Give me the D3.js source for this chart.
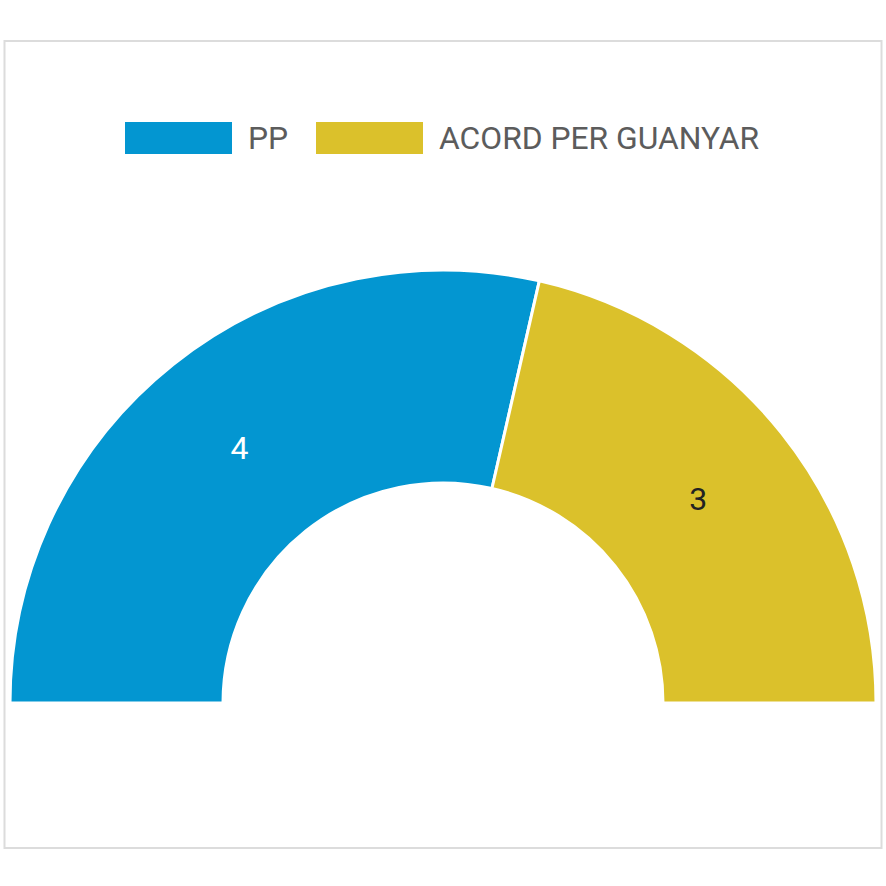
<!DOCTYPE html>
<html><head><meta charset="utf-8">
<script src="https://cdn.jsdelivr.net/npm/d3@7"></script>
<style>html,body{margin:0;padding:0;background:#fff;}</style>
</head><body>
<svg id="chart" width="886" height="886"></svg>
<script>
const categories = ["PP", "ACORD PER GUANYAR"];
const seats = [4, 3];
const colors = ["#0396d1", "#dbc12b"];
const labelColors = ["#ffffff", "#222222"];

const svg = d3.select("#chart");
svg.append("rect").attr("x", 4.5).attr("y", 41).attr("width", 877).attr("height", 807)
  .attr("fill", "#fff").attr("stroke", "#dcdcdc").attr("stroke-width", 2);

const cx = 443, cy = 703, rOuter = 433, rInner = 220;
const data = categories.map((c, i) => ({ name: c, value: seats[i], color: colors[i], lc: labelColors[i] }));
const pie = d3.pie().value(d => d.value).sort(null).startAngle(-Math.PI / 2).endAngle(Math.PI / 2);
const arc = d3.arc().innerRadius(rInner).outerRadius(rOuter);
const g = svg.append("g").attr("transform", `translate(${cx},${cy})`);
const arcs = pie(data);
g.selectAll("path").data(arcs).join("path")
  .attr("d", arc).attr("fill", d => d.data.color)
  .attr("stroke", "#fff").attr("stroke-width", 3).attr("stroke-linejoin", "miter");
g.selectAll("text").data(arcs).join("text")
  .attr("transform", d => `translate(${arc.centroid(d)})`)
  .attr("text-anchor", "middle").attr("dominant-baseline", "central")
  .attr("font-family", "Roboto").attr("font-size", 32)
  .attr("fill", d => d.data.lc).text(d => d.data.value);

// legend
const legendX = [125, 316];
const lg = svg.append("g");
data.forEach((d, i) => {
  lg.append("rect").attr("x", legendX[i]).attr("y", 122).attr("width", 107).attr("height", 32).attr("fill", d.color);
  lg.append("text").attr("x", legendX[i] + 123).attr("y", 138).attr("dominant-baseline", "central")
    .attr("font-family", "Roboto").attr("font-size", 31.8).attr("fill", "#5c5c5c").text(d.name);
});
</script>
</body></html>
